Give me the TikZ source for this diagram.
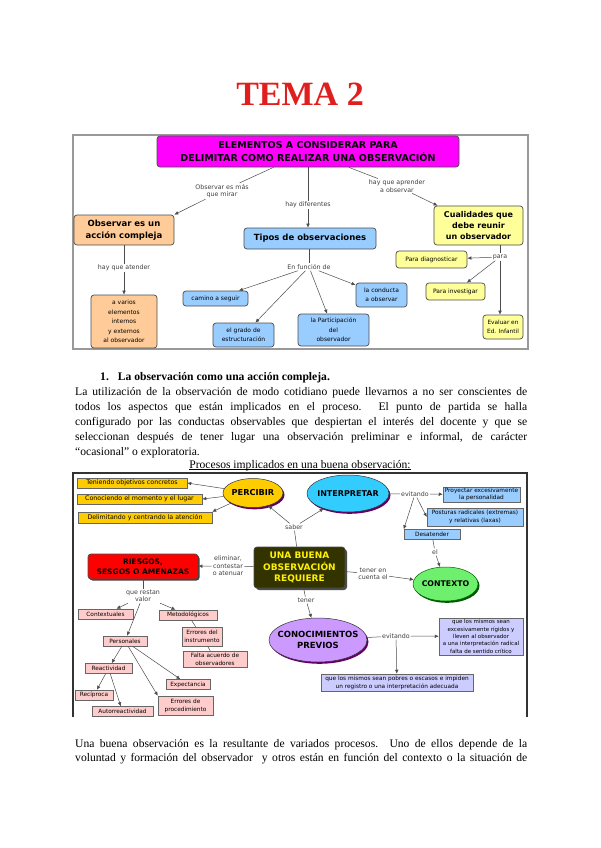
\documentclass[tikz,border=0pt]{standalone}
\usepackage{fontspec}
\setmainfont{Liberation Serif}
\newfontfamily\diagfont{DejaVu Sans}
\usepackage{tikz}
\usetikzlibrary{arrows.meta,shapes,positioning,shadows}

\definecolor{titlered}{RGB}{225,30,30}
\definecolor{mapmagenta}{RGB}{255,0,255}
\definecolor{mappeach}{RGB}{255,204,153}
\definecolor{mapblue}{RGB}{153,204,255}
\definecolor{mapyellow}{RGB}{255,255,153}
\definecolor{mapgold}{RGB}{255,204,0}
\definecolor{mapcyan}{RGB}{51,204,255}
\definecolor{mapolive}{RGB}{51,51,0}
\definecolor{mapred}{RGB}{255,0,0}
\definecolor{mappink}{RGB}{255,204,204}
\definecolor{mapgreen}{RGB}{110,240,110}
\definecolor{mapviolet}{RGB}{204,153,255}
\definecolor{maplavender}{RGB}{204,204,255}

\begin{document}
\begin{tikzpicture}[x=1pt, y=-1pt, >={Latex[length=4pt,width=3.6pt]},
    conn/.style={draw=black!70, line width=0.5pt},
    arr/.style={conn, ->},
    lbl/.style={font=\diagfont\fontsize{6.3}{7.5}\selectfont, text=black!75, align=center, inner sep=1pt},
    rbox/.style={draw=black!70, line width=0.7pt, rounded corners=3pt, align=center, inner sep=0pt},
    sbox/.style={draw=black!60, line width=0.5pt, align=center, inner sep=0pt, font=\diagfont\fontsize{5.8}{8}\selectfont},
    oval/.style={ellipse, draw=black!80, line width=0.5pt, align=center, inner sep=0pt, inner xsep=-12pt},
    txtline/.style={anchor=base west, inner sep=0pt, font=\fontsize{11.6}{14}\selectfont}]

% page
\fill[white] (0,0) rectangle (600,848);
\useasboundingbox (0,0) rectangle (600,848);

\node[font=\bfseries\fontsize{34}{34}\selectfont, text=titlered] (title) at (300,94) {TEMA 2};

% first map
\draw[black!40, line width=1.2pt] (73,135) rectangle (528,349);

\node[rbox, fill=mapmagenta, minimum width=302pt, minimum height=31pt,
      font=\diagfont\bfseries\fontsize{9.5}{12.5}\selectfont] (head) at (308,151.5)
      {ELEMENTOS A CONSIDERAR PARA\\DELIMITAR COMO REALIZAR UNA OBSERVACIÓN};
\node[rbox, fill=mappeach, minimum width=100pt, minimum height=30pt,
      font=\diagfont\bfseries\fontsize{8.5}{12}\selectfont] (acc) at (124,230)
      {Observar es un\\acción compleja};
\node[rbox, fill=mapblue, minimum width=132pt, minimum height=21pt,
      font=\diagfont\bfseries\fontsize{8.5}{10}\selectfont] (tipos) at (310,238.5)
      {Tipos de observaciones};
\node[rbox, fill=mapyellow, minimum width=89pt, minimum height=39pt,
      font=\diagfont\bfseries\fontsize{8}{11}\selectfont] (cual) at (478.5,225.5)
      {Cualidades que\\debe reunir\\un observador};

\node[lbl] (lblMirar) at (222,191) {Observar es más\\que mirar};
\node[lbl] (lblDif) at (308,205) {hay diferentes};
\node[lbl] (lblApr) at (397,186) {hay que aprender\\a observar};
\node[lbl] (lblAten) at (124,268) {hay que atender};
\node[lbl] (lblFunc) at (309,267) {En función de};
\node[lbl] (lblPara) at (500,257) {para};

\node[rbox, fill=mappeach, minimum width=66pt, minimum height=53pt,
      font=\diagfont\fontsize{6}{9.5}\selectfont] (varios) at (124,321.5)
      {a varios\\elementos\\internos\\y externos\\al observador};
\node[rbox, fill=mapblue, minimum width=65pt, minimum height=15pt,
      font=\diagfont\fontsize{6}{9}\selectfont] (camino) at (215.5,298.5) {camino a seguir};
\node[rbox, fill=mapblue, minimum width=61pt, minimum height=24pt,
      font=\diagfont\fontsize{6}{9}\selectfont] (grado) at (243.5,335) {el grado de\\estructuración};
\node[rbox, fill=mapblue, minimum width=71pt, minimum height=32pt,
      font=\diagfont\fontsize{6}{9.5}\selectfont] (partic) at (333.5,330) {la Participación\\del\\observador};
\node[rbox, fill=mapblue, minimum width=51pt, minimum height=24pt,
      font=\diagfont\fontsize{6}{9}\selectfont] (conducta) at (381.5,295) {la conducta\\a observar};
\node[rbox, fill=mapyellow, minimum width=71pt, minimum height=17pt,
      font=\diagfont\fontsize{6}{9}\selectfont] (diag) at (431.5,259.5) {Para diagnosticar};
\node[rbox, fill=mapyellow, minimum width=59pt, minimum height=17pt,
      font=\diagfont\fontsize{6}{9}\selectfont] (invest) at (455.5,291.5) {Para investigar};
\node[rbox, fill=mapyellow, minimum width=40pt, minimum height=24pt,
      font=\diagfont\fontsize{5.8}{9}\selectfont] (evaluar) at (503,327) {Evaluar en\\Ed. Infantil};

\draw[conn] (head) -- (lblMirar);
\draw[arr] (lblMirar) -- (acc.north east);
\draw[conn] (head) -- (lblDif);
\draw[arr] (lblDif) -- (tipos.north -| lblDif);
\draw[conn] (head) -- (lblApr);
\draw[arr] (lblApr) -- (cual);
\draw[conn] (acc) -- (lblAten);
\draw[arr] (lblAten) -- (varios);
\draw[conn] (tipos.south -| lblFunc) -- (lblFunc);
\foreach \t in {camino, grado, partic, conducta}
  \draw[arr] (lblFunc) -- (\t);
\draw[conn] (cual.south -| lblPara) -- (lblPara);
\draw[arr] (lblPara) -- (diag);
\draw[arr] (lblPara) -- (invest);
\draw[arr] (lblPara) -- (evaluar.north -| lblPara);

% text
\node[txtline, font=\bfseries\fontsize{11.6}{14}\selectfont] (sec1) at (100,380)
  {1.\hspace{9pt}La observación como una acción compleja.};
\node[txtline] (p1) at (75,395) {\makebox[452pt][s]{La utilización de la observación de modo cotidiano puede llevarnos a no ser conscientes de}};
\node[txtline] (p2) at (75,410) {\makebox[452pt][s]{todos los aspectos que están implicados en el proceso. El punto de partida se halla}};
\node[txtline] (p3) at (75,425) {\makebox[452pt][s]{configurado por las conductas observables que despiertan el interés del docente y que se}};
\node[txtline] (p4) at (75,440) {\makebox[452pt][s]{seleccionan después de tener lugar una observación preliminar e informal, de carácter}};
\node[txtline] (p5) at (75,455) {“ocasional” o exploratoria.};
\node[txtline, anchor=base] (procTitle) at (300,468) {Procesos implicados en una buena observación:};
\draw[line width=0.6pt] ([yshift=-1.6pt]procTitle.base west) -- ([yshift=-1.6pt]procTitle.base east);

% second map
\draw[black!80, line width=1.5pt] (73,717) -- (73,473) -- (527,473) -- (527,717);

\node[sbox, fill=mapgold, minimum width=110pt, minimum height=10pt, font=\diagfont\fontsize{6.3}{8}\selectfont] (ten) at (132,483) {Teniendo objetivos concretos};
\node[sbox, fill=mapgold, minimum width=125pt, minimum height=10pt, font=\diagfont\fontsize{6.3}{8}\selectfont] (con) at (139.5,499) {Conociendo el momento y el lugar};
\node[sbox, fill=mapgold, minimum width=134pt, minimum height=11pt, font=\diagfont\fontsize{6.3}{8}\selectfont] (del) at (145,517.5) {Delimitando y centrando la atención};

\node[oval, fill=mapgold, minimum width=60pt, minimum height=29pt,
      drop shadow={fill=violet!80!black, shadow xshift=1.5pt, shadow yshift=-1.8pt, opacity=1},
      font=\diagfont\bfseries\fontsize{8.2}{10}\selectfont] (perc) at (253,493) {PERCIBIR};
\node[oval, fill=mapcyan, minimum width=82pt, minimum height=37pt,
      drop shadow={fill=violet!80!black, shadow xshift=1.5pt, shadow yshift=-1.8pt, opacity=1},
      font=\diagfont\bfseries\fontsize{8}{10}\selectfont] (interp) at (348,493.5) {INTERPRETAR};

\node[lbl] (lblEvitA) at (415,494) {evitando};
\node[sbox, fill=mapblue, minimum width=77pt, minimum height=15pt, font=\diagfont\fontsize{5.8}{7.3}\selectfont] (proy) at (481.5,494.5) {Proyectar excesivamente\\la personalidad};
\node[sbox, fill=mapblue, minimum width=96pt, minimum height=18pt, font=\diagfont\fontsize{5.8}{7.5}\selectfont] (post) at (475,517) {Posturas radicales (extremas)\\y relativas (laxas)};
\node[sbox, fill=mapblue, minimum width=56pt, minimum height=10pt] (desat) at (432,534.5) {Desatender};
\node[lbl] (lblEl) at (435,552) {el};

\node[rbox, fill=mapolive, text=yellow, minimum width=91pt, minimum height=41pt,
      drop shadow={fill=black!70, shadow xshift=2pt, shadow yshift=-2pt, opacity=1},
      font=\diagfont\bfseries\fontsize{9}{11.5}\selectfont] (buena) at (299.5,567.5)
      {UNA BUENA\\OBSERVACIÓN\\REQUIERE};
\node[lbl] (lblSaber) at (294,527) {saber};
\node[lbl] (lblElim) at (228,566) {eliminar,\\contestar\\o atenuar};
\node[lbl] (lblCuenta) at (373,574) {tener en\\cuenta el};
\node[lbl] (lblTener) at (306,600) {tener};

\node[oval, fill=mapgreen, draw=green!40!black, minimum width=65pt, minimum height=34pt,
      drop shadow={fill=green!35!black, shadow xshift=1.5pt, shadow yshift=-1.8pt, opacity=1},
      font=\diagfont\bfseries\fontsize{7.8}{10}\selectfont] (ctx) at (445.5,584) {CONTEXTO};

\node[rbox, fill=mapred, minimum width=110pt, minimum height=25pt,
      drop shadow={fill=black!75, shadow xshift=1.5pt, shadow yshift=-1.5pt, opacity=1},
      font=\diagfont\bfseries\fontsize{7.5}{10}\selectfont] (riesgos) at (143,566.5)
      {RIESGOS,\\SESGOS O AMENAZAS};
\node[lbl] (lblValor) at (143,596) {que restan\\valor};

\node[sbox, fill=mappink, minimum width=55pt, minimum height=10pt] (contx) at (105.5,614) {Contextuales};
\node[sbox, fill=mappink, minimum width=58pt, minimum height=10pt] (metod) at (188,615) {Metodológicos};
\node[sbox, fill=mappink, minimum width=44pt, minimum height=10pt] (pers) at (125,641) {Personales};
\node[sbox, fill=mappink, minimum width=40pt, minimum height=19pt] (errins) at (202,636.5) {Errores del\\instrumento};
\node[sbox, fill=mappink, minimum width=64pt, minimum height=16pt] (falta) at (215,659) {Falta acuerdo de\\observadores};
\node[sbox, fill=mappink, minimum width=47pt, minimum height=10pt] (react) at (108.5,668.5) {Reactividad};
\node[sbox, fill=mappink, minimum width=44pt, minimum height=10pt] (expec) at (188,684.5) {Expectancia};
\node[sbox, fill=mappink, minimum width=55pt, minimum height=19pt] (errproc) at (185.5,705.5) {Errores de\\procedimiento};
\node[sbox, fill=mappink, minimum width=38pt, minimum height=10pt] (recip) at (94,695) {Recíproca};
\node[sbox, fill=mappink, minimum width=61pt, minimum height=10pt] (autor) at (122.5,711.5) {Autorreactividad};

\node[oval, fill=mapviolet, minimum width=98pt, minimum height=44pt,
      drop shadow={fill=violet!80!black, shadow xshift=1.5pt, shadow yshift=-1.8pt, opacity=1},
      font=\diagfont\bfseries\fontsize{8.5}{11}\selectfont] (conoc) at (318,640)
      {CONOCIMIENTOS\\PREVIOS};
\node[lbl] (lblEvitB) at (396,636) {evitando};
\node[sbox, fill=maplavender, minimum width=84pt, minimum height=37pt, font=\diagfont\fontsize{5.5}{7.3}\selectfont] (rig) at (481,636.5)
  {que los mismos sean\\excesivamente rígidos y\\lleven al observador\\a una interpretación radical\\falta de sentido crítico};
\node[sbox, fill=maplavender, minimum width=152pt, minimum height=17pt] (pobres) at (397,682.5)
  {que los mismos sean pobres o escasos e impiden\\un registro o una interpretación adecuada};

\foreach \t/\a in {ten/east, con/east, del/north east}
  \draw[arr] (perc) -- (\t.\a);
\draw[conn] (buena) -- (lblSaber);
\draw[arr] (lblSaber) -- (perc);
\draw[arr] (lblSaber) -- (interp);
\draw[conn] (interp) -- (lblEvitA);
\draw[arr] (lblEvitA) -- (proy);
\draw[arr] (lblEvitA) -- (post.west);
\draw[arr] (lblEvitA) -- (desat.north west);
\draw[conn] (desat) -- (lblEl);
\draw[arr] (lblEl) -- (ctx);
\draw[conn] (buena) -- (lblCuenta);
\draw[arr] (lblCuenta) -- (ctx);
\draw[conn] (buena) -- (lblTener);
\draw[arr] (lblTener) -- (conoc);
\draw[conn] (buena) -- (lblElim);
\draw[arr] (lblElim) -- (riesgos);
\draw[conn] (riesgos) -- (lblValor);
\foreach \t in {contx, metod, pers}
  \draw[arr] (lblValor) -- (\t);
\draw[conn] (metod) -- (errins);
\draw[conn] (errins) -- (falta);
\draw[arr] (pers) -- (react);
\draw[arr] (pers) -- (expec);
\draw[arr] (pers) -- (errproc.north west);
\draw[arr] (react) -- (recip);
\draw[arr] (react) -- (autor);
\draw[conn] (conoc) -- (lblEvitB);
\draw[arr] (lblEvitB) -- (rig);
\draw[arr] (lblEvitB) -- (pobres);

% text below
\node[txtline] (p6) at (75,747) {\makebox[452pt][s]{Una buena observación es la resultante de variados procesos. Uno de ellos depende de la}};
\node[txtline] (p7) at (75,761) {\makebox[452pt][s]{voluntad y formación del observador\ \ y otros están en función del contexto o la situación de}};
\end{tikzpicture}
\end{document}
